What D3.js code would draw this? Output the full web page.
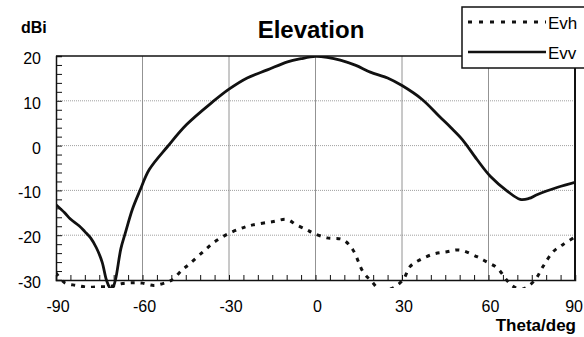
<!DOCTYPE html>
<html>
<head>
<meta charset="utf-8">
<script src="https://cdn.jsdelivr.net/npm/d3@7"></script>
<style>
  body { margin: 0; background: #fff; }
  svg { display: block; font-family: "Liberation Sans", Arial, sans-serif; }
</style>
</head>
<body>
<div id="chart"></div>
<script>
// chart values
const xTicks = [-90, -60, -30, 0, 30, 60, 90];
const yTicks = [-30, -20, -10, 0, 10, 20];

const evvTheta = [-90, -87, -85, -82, -80, -78, -76, -74, -72.5, -71.2, -70.4, -69.4, -67.5, -66, -63.5, -61, -57.6, -51.3, -44.7, -35.6, -30, -23.7, -16.7, -9.7, -5, 0, 4, 8.6, 14, 19, 25, 30, 37, 43, 47, 51, 56, 60.7, 66.6, 71, 74, 77, 84, 90];
const evvGain  = [-13.2, -15, -16.4, -17.9, -19.2, -20.6, -22.8, -26, -30, -31.8, -31.8, -30, -23, -19.6, -14.2, -10.2, -5.3, -0.2, 4.7, 9.8, 12.6, 15.1, 16.9, 18.7, 19.4, 19.9, 19.7, 19.1, 17.9, 16.4, 15.1, 13.4, 10.3, 6.5, 4, 1.3, -3.1, -6.9, -10.2, -12, -11.8, -10.9, -9.3, -8.2];

const evhTheta = [-90, -87, -83, -79, -75, -71, -67, -63, -60, -56, -52, -49.8, -46.3, -43.5, -39, -35, -29.7, -25, -21.7, -15, -9.9, -6.6, -3, -0.9, 4, 9.5, 13, 16.5, 19.6, 22, 26, 30.3, 32.8, 36.2, 41, 45.6, 50, 56, 59.5, 63, 66.8, 69, 72, 76.1, 78.9, 82.4, 86, 90];
const evhGain  = [-28.4, -30.6, -31.2, -31.6, -31.5, -31.4, -30.8, -30.6, -30.7, -31.2, -30.6, -30, -27.8, -26.3, -23.7, -21.5, -19.5, -18.3, -17.7, -17, -16.5, -17.7, -18.8, -19.5, -20.6, -21, -23.3, -28.2, -30.4, -32, -32, -30, -27, -25.5, -24.2, -23.7, -23.3, -24.8, -26, -27.3, -30.4, -31.6, -32, -30, -27, -23.7, -22, -20.4];

const seriesNames = ["Evh", "Evv"];

const width = 584, height = 337;
const plot = { left: 56, right: 575, top: 56, bottom: 280 };

const svg = d3.select("#chart").append("svg")
  .attr("width", width)
  .attr("height", height);

const xScale = d3.scaleLinear().domain([-90, 90]).range([plot.left, plot.right]);
const yScale = d3.scaleLinear().domain([-30, 20]).range([plot.bottom, plot.top]);

// grid
svg.append("g")
  .selectAll("line")
  .data(xTicks.slice(1, -1))
  .join("line")
  .attr("x1", d => xScale(d)).attr("x2", d => xScale(d))
  .attr("y1", plot.top).attr("y2", plot.bottom)
  .attr("stroke", "#777").attr("stroke-width", 0.8);

svg.append("g")
  .selectAll("line")
  .data(yTicks.slice(1, -1))
  .join("line")
  .attr("x1", plot.left).attr("x2", plot.right)
  .attr("y1", d => yScale(d)).attr("y2", d => yScale(d))
  .attr("stroke", "#888").attr("stroke-width", 0.8)
  .attr("stroke-dasharray", "1,1");

// frame
svg.append("line")
  .attr("x1", plot.left).attr("x2", plot.right)
  .attr("y1", plot.top).attr("y2", plot.top)
  .attr("stroke", "#111").attr("stroke-width", 1.5);
svg.append("line")
  .attr("x1", plot.right).attr("x2", plot.right)
  .attr("y1", plot.top).attr("y2", plot.bottom)
  .attr("stroke", "#111").attr("stroke-width", 2);

// axes with inward minor ticks
const xAxis = svg.append("g")
  .attr("transform", `translate(0, ${plot.bottom})`)
  .call(d3.axisTop(xScale).tickValues(d3.range(-90, 91, 5)).tickSize(5).tickFormat(""));
const yAxis = svg.append("g")
  .attr("transform", `translate(${plot.left}, 0)`)
  .call(d3.axisRight(yScale).tickValues(d3.range(-30, 21, 2)).tickSize(6).tickFormat(""));
[xAxis, yAxis].forEach(a => {
  a.select(".domain").attr("stroke", "#111").attr("stroke-width", 1.5);
  a.selectAll(".tick line").attr("stroke", "#111").attr("stroke-width", 1);
});

// tick labels
svg.append("g")
  .selectAll("text")
  .data(xTicks)
  .join("text")
  .attr("x", d => d === 90 ? 583 : xScale(d) + 2)
  .attr("y", 312)
  .attr("text-anchor", d => d === 90 ? "end" : "middle")
  .attr("font-size", 16)
  .text(d => d);

svg.append("g")
  .selectAll("text")
  .data(yTicks)
  .join("text")
  .attr("x", 41)
  .attr("y", d => yScale(d) + 8)
  .attr("text-anchor", "end")
  .attr("font-size", 16)
  .text(d => d);

// titles
svg.append("text")
  .attr("x", 311).attr("y", 38)
  .attr("text-anchor", "middle")
  .attr("font-size", 24).attr("font-weight", "bold")
  .text("Elevation");

svg.append("text")
  .attr("x", 21).attr("y", 33)
  .attr("font-size", 16).attr("font-weight", "bold")
  .text("dBi");

svg.append("text")
  .attr("x", 576).attr("y", 331)
  .attr("text-anchor", "end")
  .attr("font-size", 17).attr("font-weight", "bold")
  .text("Theta/deg");

// curves
svg.append("clipPath").attr("id", "clip")
  .append("rect")
  .attr("x", plot.left).attr("y", plot.top)
  .attr("width", plot.right - plot.left)
  .attr("height", yScale(-31.8) - plot.top);

const line = d3.line()
  .x(d => xScale(d[0]))
  .y(d => yScale(d[1]))
  .curve(d3.curveCatmullRom.alpha(0.5));

const curves = svg.append("g").attr("clip-path", "url(#clip)");

curves.append("path")
  .datum(d3.zip(evhTheta, evhGain))
  .attr("d", line)
  .attr("fill", "none")
  .attr("stroke", "#111")
  .attr("stroke-width", 3)
  .attr("stroke-dasharray", "4,6");

curves.append("path")
  .datum(d3.zip(evvTheta, evvGain))
  .attr("d", line)
  .attr("fill", "none")
  .attr("stroke", "#111")
  .attr("stroke-width", 2.8);

// legend
const legend = svg.append("g");
legend.append("rect")
  .attr("x", 462).attr("y", 7)
  .attr("width", 140).attr("height", 61)
  .attr("fill", "#fff")
  .attr("stroke", "#111").attr("stroke-width", 1.5);

const legendRows = legend.selectAll("g")
  .data(seriesNames)
  .join("g")
  .attr("transform", (d, i) => `translate(0, ${i * 30 + 22})`);

legendRows.append("line")
  .attr("x1", 468).attr("x2", 546)
  .attr("y1", 0).attr("y2", 0)
  .attr("stroke", "#111")
  .attr("stroke-width", d => d === "Evh" ? 3 : 2.6)
  .attr("stroke-dasharray", d => d === "Evh" ? "4,7" : null);

legendRows.append("text")
  .attr("x", 548).attr("y", 7)
  .attr("font-size", 17)
  .text(d => d);
</script>
</body>
</html>
